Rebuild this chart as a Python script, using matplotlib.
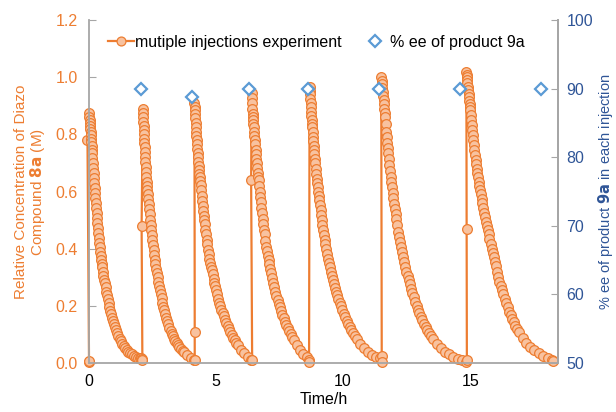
import matplotlib
matplotlib.use('Agg')
import numpy as np
import matplotlib.pyplot as plt
from matplotlib.lines import Line2D

plt.rcParams['font.family'] = ['Liberation Sans', 'DejaVu Sans']

# Injection start times (h); each decay is read as (time after injection, conc. in M)
inject_t = [0.0, 2.12, 4.15, 6.40, 8.68, 11.50, 14.85]

seg1_t = [0, 0.01, 0.02, 0.03, 0.04, 0.05, 0.06, 0.07, 0.08, 0.09, 0.10, 0.11, 0.12,
          0.135, 0.15, 0.165, 0.18, 0.195, 0.21, 0.225, 0.24, 0.255, 0.27, 0.285, 0.30,
          0.315, 0.33, 0.345, 0.36, 0.38, 0.40, 0.42, 0.44, 0.46, 0.48, 0.50, 0.52, 0.545,
          0.57, 0.595, 0.62, 0.65, 0.68, 0.71, 0.74, 0.77, 0.80, 0.835, 0.87, 0.905, 0.94,
          0.98, 1.02, 1.06, 1.10, 1.15, 1.20, 1.25, 1.30, 1.36, 1.42, 1.48, 1.55, 1.62,
          1.70, 1.78, 1.85, 1.92, 2.00, 2.05, 2.10]
seg1_c = [0.875, 0.862, 0.85, 0.84, 0.83, 0.82, 0.81, 0.797, 0.785, 0.772, 0.76, 0.747,
          0.735, 0.717, 0.70, 0.682, 0.665, 0.647, 0.63, 0.612, 0.595, 0.577, 0.56, 0.542,
          0.525, 0.507, 0.49, 0.472, 0.455, 0.437, 0.42, 0.405, 0.39, 0.375, 0.36, 0.347,
          0.335, 0.32, 0.305, 0.292, 0.28, 0.265, 0.25, 0.237, 0.225, 0.211, 0.197, 0.183,
          0.17, 0.159, 0.148, 0.136, 0.125, 0.115, 0.105, 0.095, 0.085, 0.076, 0.068, 0.06,
          0.052, 0.046, 0.04, 0.035, 0.03, 0.026, 0.022, 0.019, 0.017, 0.016, 0.015]

seg2_t = [0, 0.008, 0.015, 0.022, 0.03, 0.038, 0.045, 0.052, 0.06, 0.07, 0.08, 0.09, 0.10,
          0.11, 0.12, 0.135, 0.15, 0.165, 0.18, 0.195, 0.21, 0.23, 0.25, 0.27, 0.29, 0.31,
          0.33, 0.35, 0.37, 0.395, 0.42, 0.445, 0.47, 0.495, 0.52, 0.55, 0.58, 0.61, 0.64,
          0.67, 0.70, 0.735, 0.77, 0.805, 0.84, 0.88, 0.92, 0.96, 1.00, 1.045, 1.09, 1.135,
          1.18, 1.23, 1.28, 1.33, 1.38, 1.44, 1.50, 1.56, 1.62, 1.75, 1.88, 2.00]
seg2_c = [0.89, 0.875, 0.86, 0.845, 0.83, 0.815, 0.80, 0.785, 0.77, 0.755, 0.74, 0.722,
          0.705, 0.687, 0.67, 0.652, 0.635, 0.62, 0.605, 0.59, 0.575, 0.557, 0.54, 0.52,
          0.50, 0.482, 0.465, 0.447, 0.43, 0.412, 0.395, 0.377, 0.36, 0.345, 0.33, 0.315,
          0.30, 0.285, 0.27, 0.256, 0.243, 0.226, 0.21, 0.197, 0.185, 0.171, 0.158, 0.146,
          0.135, 0.123, 0.112, 0.102, 0.093, 0.084, 0.076, 0.069, 0.062, 0.055, 0.048,
          0.042, 0.037, 0.027, 0.018, 0.012]

seg3_t = [0, 0.01, 0.02, 0.03, 0.04, 0.05, 0.06, 0.07, 0.08, 0.09, 0.10, 0.11, 0.12,
          0.135, 0.15, 0.165, 0.18, 0.195, 0.21, 0.225, 0.24, 0.26, 0.28, 0.30, 0.32, 0.34,
          0.36, 0.38, 0.40, 0.425, 0.45, 0.475, 0.50, 0.53, 0.56, 0.59, 0.62, 0.65, 0.68,
          0.715, 0.75, 0.785, 0.82, 0.86, 0.90, 0.94, 0.98, 1.02, 1.06, 1.105, 1.15, 1.20,
          1.25, 1.30, 1.35, 1.405, 1.46, 1.52, 1.58, 1.64, 1.70, 1.83, 1.96, 2.10, 2.24]
seg3_c = [0.91, 0.897, 0.885, 0.87, 0.856, 0.84, 0.825, 0.81, 0.795, 0.78, 0.765, 0.75,
          0.735, 0.72, 0.705, 0.69, 0.675, 0.662, 0.65, 0.636, 0.623, 0.604, 0.585, 0.567,
          0.55, 0.532, 0.515, 0.50, 0.485, 0.467, 0.45, 0.432, 0.415, 0.397, 0.38, 0.365,
          0.35, 0.337, 0.325, 0.31, 0.295, 0.281, 0.268, 0.254, 0.24, 0.225, 0.21, 0.198,
          0.187, 0.175, 0.163, 0.151, 0.14, 0.129, 0.118, 0.108, 0.098, 0.088, 0.079, 0.07,
          0.062, 0.047, 0.035, 0.022, 0.012]

seg4_t = [0, 0.01, 0.02, 0.03, 0.04, 0.05, 0.06, 0.07, 0.08, 0.095, 0.11, 0.125, 0.14,
          0.155, 0.17, 0.185, 0.20, 0.22, 0.24, 0.26, 0.28, 0.30, 0.32, 0.34, 0.36, 0.385,
          0.41, 0.435, 0.46, 0.485, 0.51, 0.54, 0.57, 0.60, 0.63, 0.665, 0.70, 0.735, 0.77,
          0.81, 0.85, 0.89, 0.93, 0.975, 1.02, 1.065, 1.11, 1.16, 1.21, 1.26, 1.31, 1.365,
          1.42, 1.48, 1.54, 1.60, 1.66, 1.79, 1.92, 2.04, 2.16, 2.26]
seg4_c = [0.944, 0.927, 0.91, 0.89, 0.873, 0.862, 0.85, 0.837, 0.825, 0.81, 0.795, 0.78,
          0.765, 0.747, 0.73, 0.715, 0.70, 0.682, 0.665, 0.652, 0.64, 0.62, 0.60, 0.582,
          0.565, 0.544, 0.524, 0.504, 0.485, 0.467, 0.45, 0.428, 0.407, 0.391, 0.375, 0.36,
          0.345, 0.329, 0.314, 0.297, 0.28, 0.265, 0.25, 0.235, 0.22, 0.207, 0.195, 0.181,
          0.168, 0.156, 0.145, 0.133, 0.122, 0.111, 0.1, 0.09, 0.08, 0.062, 0.046, 0.033,
          0.022, 0.01]

seg5_t = [0, 0.01, 0.02, 0.03, 0.04, 0.05, 0.06, 0.07, 0.08, 0.09, 0.10, 0.115, 0.13,
          0.145, 0.16, 0.175, 0.19, 0.205, 0.22, 0.24, 0.26, 0.28, 0.30, 0.32, 0.34, 0.36,
          0.38, 0.405, 0.43, 0.455, 0.48, 0.505, 0.53, 0.56, 0.59, 0.62, 0.65, 0.685, 0.72,
          0.755, 0.79, 0.83, 0.87, 0.91, 0.95, 0.995, 1.04, 1.085, 1.13, 1.18, 1.23, 1.285,
          1.34, 1.40, 1.46, 1.52, 1.58, 1.645, 1.71, 1.78, 1.85, 1.99, 2.14, 2.30, 2.46,
          2.62, 2.78]
seg5_c = [0.967, 0.953, 0.94, 0.925, 0.909, 0.895, 0.88, 0.865, 0.85, 0.837, 0.825, 0.808,
          0.792, 0.776, 0.76, 0.745, 0.73, 0.715, 0.70, 0.68, 0.66, 0.645, 0.63, 0.615,
          0.60, 0.585, 0.57, 0.552, 0.535, 0.517, 0.50, 0.482, 0.465, 0.447, 0.43, 0.415,
          0.40, 0.382, 0.365, 0.35, 0.335, 0.32, 0.305, 0.291, 0.278, 0.264, 0.25, 0.237,
          0.225, 0.211, 0.198, 0.185, 0.172, 0.16, 0.148, 0.137, 0.126, 0.115, 0.105, 0.095,
          0.085, 0.067, 0.052, 0.039, 0.029, 0.021, 0.016]

seg6_t = [0, 0.015, 0.03, 0.045, 0.06, 0.075, 0.09, 0.105, 0.12, 0.135, 0.15, 0.17, 0.19,
          0.21, 0.23, 0.25, 0.27, 0.295, 0.32, 0.345, 0.37, 0.395, 0.42, 0.45, 0.48, 0.51,
          0.54, 0.57, 0.60, 0.635, 0.67, 0.705, 0.74, 0.78, 0.82, 0.86, 0.90, 0.945, 0.99,
          1.035, 1.08, 1.13, 1.18, 1.23, 1.28, 1.335, 1.39, 1.445, 1.50, 1.56, 1.62, 1.685,
          1.75, 1.82, 1.89, 1.96, 2.03, 2.18, 2.34, 2.50, 2.67, 2.84, 3.01, 3.18, 3.34]
seg6_c = [1.002, 0.988, 0.975, 0.962, 0.95, 0.935, 0.92, 0.905, 0.89, 0.875, 0.86, 0.835,
          0.81, 0.79, 0.77, 0.752, 0.735, 0.714, 0.693, 0.671, 0.65, 0.632, 0.615, 0.595,
          0.576, 0.558, 0.54, 0.522, 0.505, 0.482, 0.46, 0.442, 0.425, 0.407, 0.39, 0.372,
          0.355, 0.337, 0.32, 0.305, 0.29, 0.275, 0.26, 0.245, 0.23, 0.215, 0.2, 0.187,
          0.175, 0.162, 0.15, 0.137, 0.125, 0.114, 0.104, 0.094, 0.085, 0.068, 0.053, 0.04,
          0.03, 0.022, 0.015, 0.009, 0.005]

seg7_t = [0, 0.01, 0.02, 0.03, 0.04, 0.055, 0.07, 0.085, 0.10, 0.115, 0.13, 0.145, 0.16,
          0.18, 0.20, 0.22, 0.24, 0.26, 0.28, 0.30, 0.32, 0.34, 0.36, 0.385, 0.41, 0.435,
          0.46, 0.485, 0.51, 0.54, 0.57, 0.60, 0.63, 0.665, 0.70, 0.735, 0.77, 0.805, 0.84,
          0.875, 0.91, 0.95, 0.99, 1.03, 1.07, 1.115, 1.16, 1.205, 1.25, 1.30, 1.35, 1.40,
          1.45, 1.505, 1.56, 1.62, 1.68, 1.74, 1.80, 1.865, 1.93, 2.00, 2.07, 2.21, 2.36,
          2.52, 2.68, 2.85, 3.02, 3.20, 3.38, 3.42]
seg7_c = [1.018, 1.009, 1.0, 0.99, 0.98, 0.967, 0.955, 0.942, 0.93, 0.917, 0.905, 0.895,
          0.885, 0.867, 0.85, 0.832, 0.815, 0.797, 0.78, 0.762, 0.745, 0.727, 0.71, 0.695,
          0.68, 0.665, 0.65, 0.635, 0.62, 0.605, 0.59, 0.575, 0.56, 0.542, 0.525, 0.51,
          0.495, 0.48, 0.465, 0.45, 0.435, 0.417, 0.4, 0.385, 0.37, 0.355, 0.34, 0.32, 0.30,
          0.285, 0.27, 0.255, 0.24, 0.225, 0.21, 0.195, 0.18, 0.167, 0.155, 0.142, 0.13,
          0.119, 0.108, 0.088, 0.071, 0.056, 0.044, 0.034, 0.025, 0.017, 0.01, 0.007]

# points sampled while each injection was going in (absolute time, conc.)
pre_t = [[0.0, 0.0, -0.06], [2.10, 2.07], [4.16, 4.16], [6.42, 6.38], [8.66],
         [11.52, 11.52], [14.87, 14.86]]
pre_c = [[0.003, 0.008, 0.78], [0.01, 0.48], [0.01, 0.11], [0.01, 0.64], [0.005],
         [0.024, 0.005], [0.01, 0.47]]

# % ee of product 9a after each injection
ee_t = [2.05, 4.05, 6.3, 8.6, 11.4, 14.6, 17.8]
ee = [90, 88.8, 90, 90, 90, 90, 90]

seg_t = [seg1_t, seg2_t, seg3_t, seg4_t, seg5_t, seg6_t, seg7_t]
seg_c = [seg1_c, seg2_c, seg3_c, seg4_c, seg5_c, seg6_c, seg7_c]

t_all, c_all = [], []
for t0, pt, pc, st, sc in zip(inject_t, pre_t, pre_c, seg_t, seg_c):
    assert len(st) == len(sc)
    t_all += pt + list(t0 + np.array(st))
    c_all += pc + sc

orange = '#ED7D31'
blue = '#5B9BD5'
navy = '#2F5597'
grey = '#A6A6A6'

fig = plt.figure(figsize=(6.16, 4.12), dpi=100)
ax = fig.add_axes([0.1445, 0.119, 0.7615, 0.832])
ax.plot(t_all, c_all, color=orange, lw=1.6, marker='o', ms=7,
        mfc='#F8C29F', mec=orange, mew=0.9, clip_on=False)
ax.set_xlim(0, 18.46)
ax.set_ylim(0, 1.2)
ax.set_xticks([0, 5, 10, 15])
ax.set_yticks(np.arange(0, 1.21, 0.2))
ax.yaxis.set_major_formatter(plt.FormatStrFormatter('%.1f'))
ax.tick_params(axis='y', direction='in', length=5, color=grey, labelcolor=orange,
               labelsize=11.5, pad=8)
ax.tick_params(axis='x', length=0, labelsize=11.5, pad=8)
ax.set_xlabel('Time/h', fontsize=11.5, labelpad=2)
ax.set_ylabel('Relative Concentration of Diazo\nCompound $\\mathbf{8a}$ (M)',
              color=orange, fontsize=11, labelpad=6, linespacing=1.0)
ax.spines['top'].set_visible(False)
for s in ['left', 'bottom', 'right']:
    ax.spines[s].set_color(grey)
    ax.spines[s].set_linewidth(1.3)

ax2 = ax.twinx()
ax2.plot(ee_t, ee, ls='none', marker='D', ms=6.3, mfc='white', mec=blue, mew=1.6,
         clip_on=False)
ax2.set_ylim(50, 100)
ax2.set_yticks(np.arange(50, 101, 10))
ax2.tick_params(axis='y', direction='in', length=5, color=grey, labelcolor=navy,
                labelsize=11.5, pad=6)
ax2.set_ylabel('% ee of product $\\mathbf{9a}$ in each injection', color=navy,
               fontsize=10.5, labelpad=2)
ax2.spines['top'].set_visible(False)
ax2.spines['right'].set_color(grey)
ax2.spines['right'].set_linewidth(1.3)
ax2.spines['left'].set_visible(False)
ax2.spines['bottom'].set_visible(False)

handles = [Line2D([], [], color=orange, lw=1.6, marker='o', ms=6.4, mfc='#F8C29F',
                  mec=orange, mew=0.9),
           Line2D([], [], ls='none', marker='D', ms=6.3, mfc='white', mec=blue, mew=1.6)]
ax2.legend(handles, ['mutiple injections experiment', '% ee of product 9a'], ncol=2,
           loc='upper left', bbox_to_anchor=(0.01, 1.0), frameon=False, fontsize=11.5,
           handlelength=1.6, handletextpad=0.1, columnspacing=1.3)

fig.savefig('out.png', dpi=100)
